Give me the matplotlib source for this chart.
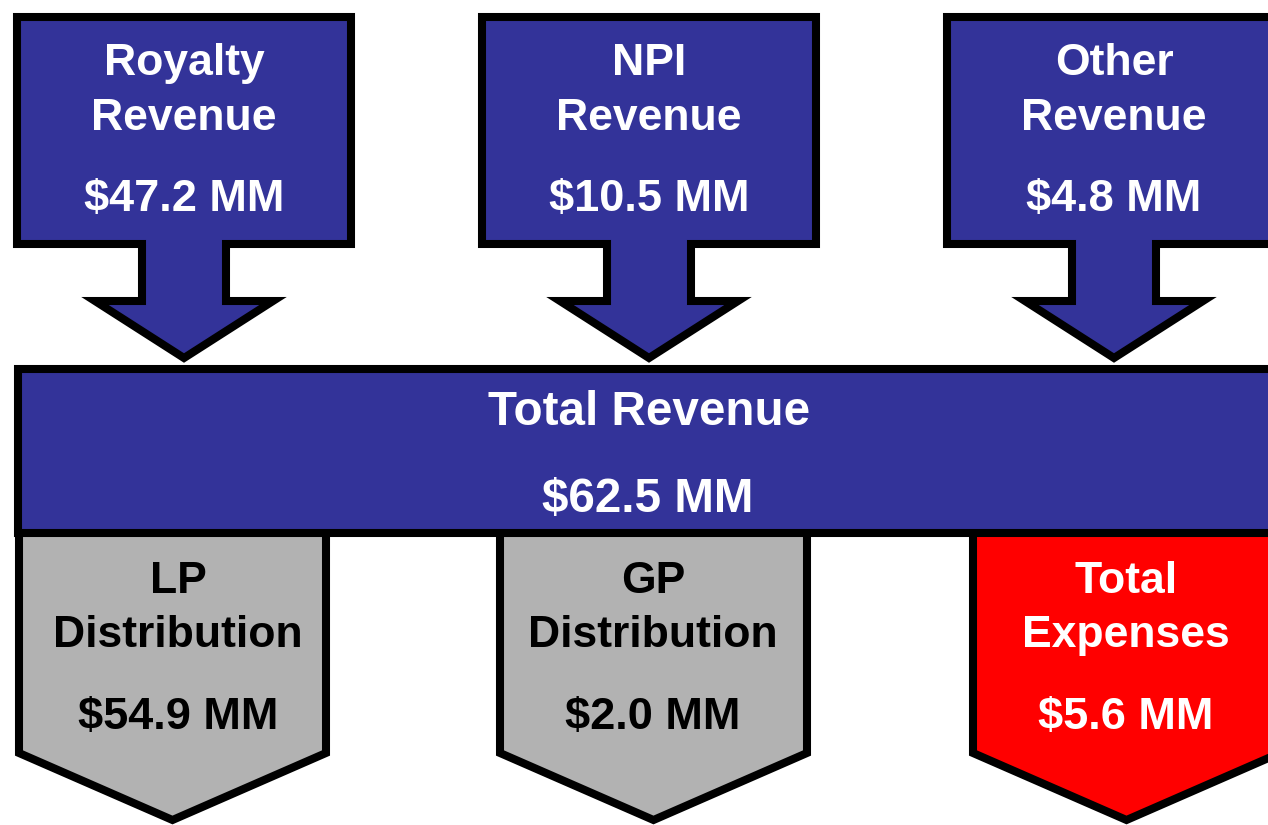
import matplotlib.pyplot as plt
from matplotlib.patches import Polygon

# data
src_names = ['Royalty\nRevenue', 'NPI\nRevenue', 'Other\nRevenue']
src_values = [47.2, 10.5, 4.8]
total_value = 62.5
out_names = ['LP\nDistribution', 'GP\nDistribution', 'Total\nExpenses']
out_values = [54.9, 2.0, 5.6]

# layout (pixels, y down)
W, H = 1268, 825
src_cx = [184, 649, 1114]
out_cx = [172.5, 653.5, 1126.5]
out_txt = [178, 653, 1126]
box_hw = 167
out_hw = 153.5
navy = '#333399'
grey = '#b2b2b2'
red = '#ff0000'
lw = 5.8

plt.rcParams['font.family'] = ['Liberation Sans', 'DejaVu Sans']
fig = plt.figure(figsize=(W / 100, H / 100), dpi=100)
ax = fig.add_axes([0, 0, 1, 1])
ax.set_xlim(0, W)
ax.set_ylim(H, 0)
ax.axis('off')

def fmt(v):
    return '$' + format(v, '.1f') + ' MM'

# source boxes with down arrows
for cx, name, v in zip(src_cx, src_names, src_values):
    pts = [(cx - box_hw, 17), (cx + box_hw, 17), (cx + box_hw, 244),
           (cx + 42, 244), (cx + 42, 301), (cx + 89, 301), (cx, 358),
           (cx - 89, 301), (cx - 42, 301), (cx - 42, 244), (cx - box_hw, 244)]
    ax.add_patch(Polygon(pts, closed=True, fc=navy, ec='black', lw=lw,
                         joinstyle='miter', zorder=2))
    top, bottom = name.split('\n')
    ax.text(cx, 75, top, color='white', fontsize=32, fontweight='bold',
            ha='center', va='baseline', zorder=5)
    ax.text(cx, 130, bottom, color='white', fontsize=32, fontweight='bold',
            ha='center', va='baseline', zorder=5)
    ax.text(cx, 211, fmt(v), color='white', fontsize=32.5, fontweight='bold',
            ha='center', va='baseline', zorder=5)

# output pentagons (tops hidden under the total bar)
colors = [grey, grey, red]
tcolors = ['black', 'black', 'white']
for cx, tx, name, v, c, tc in zip(out_cx, out_txt, out_names, out_values, colors, tcolors):
    pts = [(cx - out_hw, 500), (cx + out_hw, 500), (cx + out_hw, 753),
           (cx, 820), (cx - out_hw, 753)]
    ax.add_patch(Polygon(pts, closed=True, fc=c, ec='black', lw=lw,
                         joinstyle='miter', zorder=1))
    top, bottom = name.split('\n')
    ax.text(tx, 593, top, color=tc, fontsize=32, fontweight='bold',
            ha='center', va='baseline', zorder=5)
    ax.text(tx, 647, bottom, color=tc, fontsize=32, fontweight='bold',
            ha='center', va='baseline', zorder=5)
    ax.text(tx, 729, fmt(v), color=tc, fontsize=32.5, fontweight='bold',
            ha='center', va='baseline', zorder=5)

# total revenue bar
bar = [(18, 369), (1320, 369), (1320, 533), (18, 533)]
ax.add_patch(Polygon(bar, closed=True, fc=navy, ec='black', lw=lw,
                     joinstyle='miter', zorder=3))
ax.text(649, 425, 'Total Revenue', color='white', fontsize=34.3, fontweight='bold',
        ha='center', va='baseline', zorder=5)
ax.text(648, 512, fmt(total_value), color='white', fontsize=34.3, fontweight='bold',
        ha='center', va='baseline', zorder=5)

fig.savefig('out.png', dpi=100)
